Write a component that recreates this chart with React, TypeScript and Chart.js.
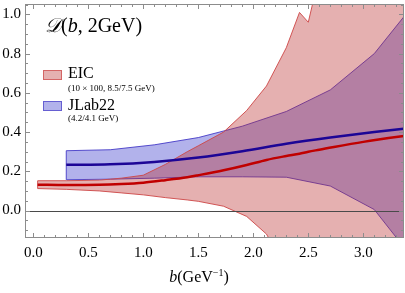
import React, { useEffect, useRef } from "react";
import { Chart, registerables } from "chart.js";

Chart.register(...registerables);

// ---- data ----
const eicB = [0.04, 0.3, 0.6, 0.8, 1.0, 1.2, 1.4, 1.5, 1.73, 1.94, 2.12, 2.3, 2.42, 2.5, 2.6, 3.0, 3.5];
const eicCentral = [0.132, 0.13, 0.131, 0.135, 0.142, 0.155, 0.17, 0.18, 0.205, 0.232, 0.258, 0.278, 0.29, 0.3, 0.31, 0.35, 0.39];
const eicUpper = [0.152, 0.152, 0.155, 0.165, 0.18, 0.235, 0.3, 0.33, 0.4, 0.51, 0.635, 0.83, 1.01, 0.96, 1.2, 2.0, 3.0];
const eicLower = [0.112, 0.108, 0.1, 0.09, 0.08, 0.066, 0.054, 0.047, 0.022, -0.03, -0.12, -0.3, -0.45, -0.55, -0.7, -1.2, -1.8];

const jlabB = [0.3, 0.7, 1.1, 1.5, 1.9, 2.3, 2.7, 3.1, 3.5];
const jlabCentral = [0.233, 0.236, 0.248, 0.27, 0.302, 0.34, 0.372, 0.4, 0.425];
const jlabUpper = [0.305, 0.31, 0.335, 0.372, 0.43, 0.505, 0.615, 0.8, 1.08];
const jlabLower = [0.157, 0.16, 0.165, 0.172, 0.172, 0.17, 0.125, 0.005, -0.28];

const xTicks = [0, 0.5, 1.0, 1.5, 2.0, 2.5, 3.0];
const yTicks = [0, 0.2, 0.4, 0.6, 0.8, 1.0];
const xMinor = 0.1;
const yMinor = 0.05;
const xRange = [-0.075, 3.37];
const yRange = [-0.14, 1.053];

const FONT = "'Liberation Serif', 'DejaVu Serif', serif";

const line = (b: number[], v: number[]) => b.map((x, i) => ({ x, y: v[i] }));
const band = (b: number[], up: number[], lo: number[]) => [
  ...line(b, up),
  ...line(b, lo).reverse(),
  { x: b[0], y: up[0] },
];

const framePlugin = {
  id: "frame",
  afterDatasetsDraw(chart: any) {
    const { ctx, chartArea, scales } = chart;
    const { left, right, top, bottom } = chartArea;
    const xs = scales.x;
    const ys = scales.y;
    ctx.save();
    // zero line
    const y0 = Math.round(ys.getPixelForValue(0)) + 0.5;
    ctx.strokeStyle = "#4a4a4a";
    ctx.lineWidth = 1;
    ctx.beginPath();
    ctx.moveTo(left, y0);
    ctx.lineTo(right, y0);
    ctx.stroke();
    // frame
    ctx.strokeStyle = "#8c8c8c";
    ctx.strokeRect(left + 0.5, top + 0.5, right - left - 1, bottom - top - 1);
    // ticks
    ctx.beginPath();
    const nx0 = Math.ceil(xRange[0] / xMinor);
    const nx1 = Math.floor(xRange[1] / xMinor);
    for (let k = nx0; k <= nx1; k++) {
      const v = k * xMinor;
      const major = k % 5 === 0;
      const len = major ? 5 : 3;
      const px = Math.round(xs.getPixelForValue(v)) + 0.5;
      ctx.moveTo(px, bottom);
      ctx.lineTo(px, bottom - len);
      ctx.moveTo(px, top);
      ctx.lineTo(px, top + len);
    }
    const ny0 = Math.ceil(yRange[0] / yMinor);
    const ny1 = Math.floor(yRange[1] / yMinor);
    for (let k = ny0; k <= ny1; k++) {
      const v = k * yMinor;
      const major = k % 4 === 0;
      const len = major ? 5 : 3;
      const py = Math.round(ys.getPixelForValue(v)) + 0.5;
      ctx.moveTo(left, py);
      ctx.lineTo(left + len, py);
      ctx.moveTo(right, py);
      ctx.lineTo(right - len, py);
    }
    ctx.stroke();
    ctx.restore();
  },
};

export default function App() {
  const ref = useRef<HTMLCanvasElement>(null);

  useEffect(() => {
    if (!ref.current) return;
    const chart = new Chart(ref.current, {
      type: "line",
      data: {
        datasets: [
          {
            label: "EIC central",
            data: line(eicB, eicCentral),
            borderColor: "#c00000",
            borderWidth: 2.5,
            pointRadius: 0,
            fill: false,
            cubicInterpolationMode: "monotone",
            order: 1,
          },
          {
            label: "JLab22 central",
            data: line(jlabB, jlabCentral),
            borderColor: "#1c0596",
            borderWidth: 2.5,
            pointRadius: 0,
            fill: false,
            cubicInterpolationMode: "monotone",
            order: 2,
          },
          {
            label: "EIC",
            data: band(eicB, eicUpper, eicLower),
            borderColor: "rgba(205,70,70,0.9)",
            backgroundColor: "rgba(185,40,40,0.37)",
            borderWidth: 1,
            pointRadius: 0,
            fill: "shape",
            tension: 0,
            order: 3,
          },
          {
            label: "JLab22",
            data: band(jlabB, jlabUpper, jlabLower),
            borderColor: "rgba(70,60,200,0.9)",
            backgroundColor: "rgba(45,45,200,0.37)",
            borderWidth: 1,
            pointRadius: 0,
            fill: "shape",
            tension: 0,
            order: 4,
          },
        ],
      } as any,
      options: {
        animation: false,
        responsive: true,
        maintainAspectRatio: false,
        layout: { padding: { top: 4, right: 1, left: 0, bottom: 0 } },
        plugins: { legend: { display: false }, tooltip: { enabled: false } },
        scales: {
          x: {
            type: "linear",
            min: xRange[0],
            max: xRange[1],
            grid: { display: false, drawTicks: false },
            border: { display: false },
            afterFit: (s: any) => {
              s.height = 55;
              s.paddingLeft = 0;
              s.paddingRight = 0;
            },
            afterBuildTicks: (s: any) => {
              s.ticks = xTicks.map((v) => ({ value: v }));
            },
            ticks: {
              padding: 6,
              color: "#000",
              font: { family: FONT, size: 15 },
              callback: (v: any) => Number(v).toFixed(1),
            },
          },
          y: {
            type: "linear",
            min: yRange[0],
            max: yRange[1],
            grid: { display: false, drawTicks: false },
            border: { display: false },
            afterFit: (s: any) => {
              s.width = 25;
              s.paddingTop = 0;
              s.paddingBottom = 0;
            },
            afterBuildTicks: (s: any) => {
              s.ticks = yTicks.map((v) => ({ value: v }));
            },
            ticks: {
              padding: 4,
              color: "#000",
              font: { family: FONT, size: 15 },
              callback: (v: any) => Number(v).toFixed(1),
            },
          },
        },
      } as any,
      plugins: [framePlugin],
    });
    return () => chart.destroy();
  }, []);

  const abs = (o: React.CSSProperties): React.CSSProperties => ({
    position: "absolute",
    fontFamily: FONT,
    color: "#000",
    whiteSpace: "nowrap",
    ...o,
  });

  return (
    <div style={{ position: "fixed", left: 0, top: 0, width: 405, height: 293, background: "#fff" }}>
      <canvas ref={ref} style={{ position: "absolute", left: 0, top: 0 }} />
      <div style={abs({ left: 45, top: 13, fontSize: 20, lineHeight: "24px" })}>
        <span style={{ fontStyle: "italic" }}>𝒟</span>(<span style={{ fontStyle: "italic" }}>b</span>, 2GeV)
      </div>
      <div
        style={abs({
          left: 43,
          top: 70,
          width: 19,
          height: 10,
          background: "rgba(185,40,40,0.37)",
          border: "1px solid rgba(205,70,70,0.7)",
          boxSizing: "border-box",
        })}
      />
      <div style={abs({ left: 68, top: 64, fontSize: 16, lineHeight: "18px" })}>EIC</div>
      <div style={abs({ left: 68, top: 83, fontSize: 9, lineHeight: "11px" })}>(10 × 100, 8.5/7.5 GeV)</div>
      <div
        style={abs({
          left: 43,
          top: 101,
          width: 19,
          height: 10,
          background: "rgba(45,45,200,0.37)",
          border: "1px solid rgba(70,60,200,0.7)",
          boxSizing: "border-box",
        })}
      />
      <div style={abs({ left: 68, top: 96, fontSize: 16, lineHeight: "18px" })}>JLab22</div>
      <div style={abs({ left: 68, top: 113, fontSize: 9, lineHeight: "11px" })}>(4.2/4.1 GeV)</div>
      <div style={abs({ left: 199, top: 267, fontSize: 16, lineHeight: "20px", transform: "translateX(-50%)" })}>
        <span style={{ fontStyle: "italic" }}>b</span>(GeV<sup style={{ fontSize: 10, lineHeight: 0 }}>−1</sup>)
      </div>
    </div>
  );
}
